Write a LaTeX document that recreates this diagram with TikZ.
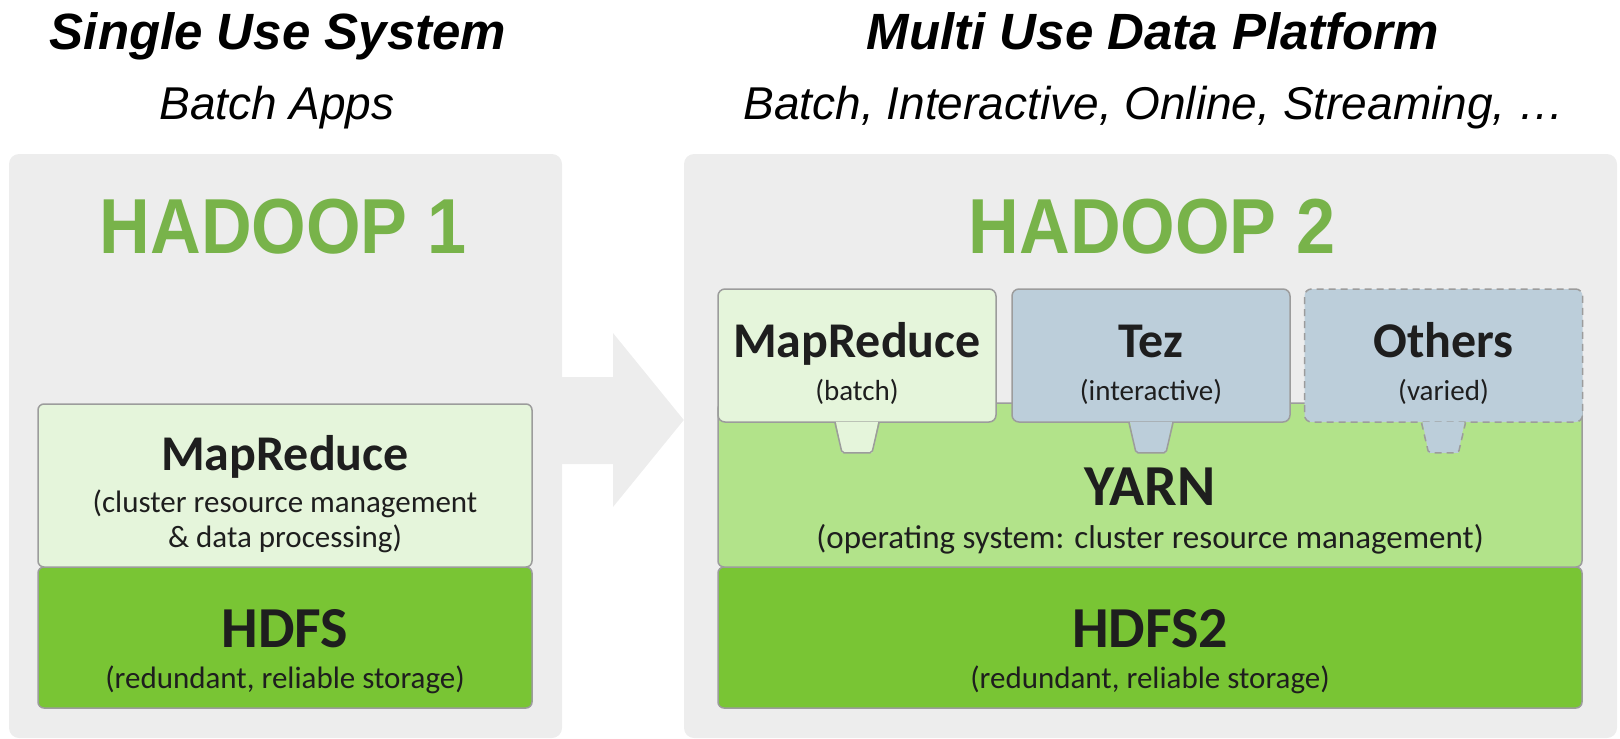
\documentclass[tikz,border=0pt]{standalone}
\usepackage{fontspec}
\setmainfont{Carlito}
\newfontfamily\headfont{Liberation Sans}
\newfontfamily\hadoopfont[FakeStretch=0.9]{Liberation Sans}
\usetikzlibrary{positioning}
\usetikzlibrary{calc}

\definecolor{panelgray}{HTML}{EDEDED}
\definecolor{hadoopgreen}{HTML}{78B34A}
\definecolor{palegreen}{HTML}{E5F5DB}
\definecolor{hdfsgreen}{HTML}{79C534}
\definecolor{yarngreen}{HTML}{B2E38A}
\definecolor{tezblue}{HTML}{BCCEDA}
\definecolor{edgegray}{HTML}{9C9C9C}
\definecolor{inkblack}{HTML}{1E1E1E}

\tikzstyle{panel} = [rectangle, rounded corners=10pt, fill=panelgray, inner sep=0pt]
\tikzstyle{layerbox} = [rectangle, rounded corners=6pt, draw=edgegray, line width=1.5pt, inner sep=0pt, minimum width=494pt]
\tikzstyle{enginebox} = [layerbox, rounded corners=7pt, minimum width=278pt, minimum height=133pt]
\tikzstyle{tabedge} = [draw=edgegray, line width=1.5pt, rounded corners=2pt]
\tikzstyle{looseedge} = [dash pattern=on 7pt off 5pt]
\tikzstyle{heading} = [anchor=base, inner sep=0pt, font=\headfont\bfseries\itshape\fontsize{51}{53}\selectfont]
\tikzstyle{subheading} = [anchor=base, inner sep=0pt, font=\headfont\itshape\fontsize{46}{48}\selectfont]
\tikzstyle{hadooptitle} = [anchor=base, inner sep=0pt, text=hadoopgreen, font=\hadoopfont\bfseries\fontsize{78}{80}\selectfont]
\tikzstyle{boxname} = [anchor=base, inner sep=0pt, text=inkblack, font=\bfseries\fontsize{50}{52}\selectfont]
\tikzstyle{bigboxname} = [boxname, font=\bfseries\fontsize{58}{60}\selectfont]
\tikzstyle{boxnote} = [anchor=base, inner sep=0pt, text=inkblack, font=\fontsize{31}{33}\selectfont]
\tikzstyle{smallnote} = [boxnote, font=\fontsize{29}{31}\selectfont]

\begin{document}
\begin{tikzpicture}[x=1pt, y=-1pt]

    \useasboundingbox (0,0) rectangle (1620,739);

    % panels and the arrow between them
    \node (panel1) [panel, minimum width=553pt, minimum height=584pt] at (285.5,446) {};
    \node (panel2) [panel, minimum width=933pt, minimum height=584pt] at (1150.5,446) {};
    \fill[panelgray] ($(panel1.east |- 0,377)+(-4,0)$) -- (613,377) -- (613,333) -- (panel2.west |- 0,420) -- (613,507) -- (613,464) -- ($(panel1.east |- 0,464)+(-4,0)$) -- cycle;

    \node (title1) [heading] at (278,49) {Single Use System};
    \node (sub1) [subheading] at (277,119) {Batch Apps};
    \node (title2) [heading] at (1153,49) {Multi Use Data Platform};
    \node (sub2) [subheading] at (1154,119) {Batch, Interactive, Online, Streaming, …};

    \node (hadoop1) [hadooptitle] at (283,253) {HADOOP 1};
    \node (hadoop2) [hadooptitle] at (1152,253) {HADOOP 2};

    % hadoop 1 stack
    \node (hdfs1) [layerbox, fill=hdfsgreen, minimum height=141pt] at (285,637.5) {};
    \node (mr1) [layerbox, fill=palegreen, minimum height=163pt] at (285,485.5) {};

    \node (mr1name) [boxname] at (285,470) {MapReduce};
    \node (mr1note) [boxnote] at (285,512) {(cluster resource management};
    \node (mr1note2) [boxnote] at (285,547) {\& data processing)};
    \node (hdfs1name) [bigboxname] at (285,647) {HDFS};
    \node (hdfs1note) [boxnote] at (285,688) {(redundant, reliable storage)};

    % hadoop 2 stack
    \node (hdfs2) [layerbox, fill=hdfsgreen, minimum width=864pt, minimum height=141pt] at (1150,637.5) {};
    \node (yarn) [layerbox, fill=yarngreen, minimum width=864pt, minimum height=164pt] at (1150,485) {};

    \node (mr2) [enginebox, fill=palegreen] at (857,355.5) {};
    \node (tez) [enginebox, fill=tezblue] at (1151,355.5) {};
    \node (others) [enginebox, fill=tezblue, looseedge] at (1443.5,355.5) {};

    % tabs hanging into yarn
    \fill[palegreen] ([xshift=-21pt,yshift=1pt]mr2.south) -- ([xshift=-15pt,yshift=-30pt]mr2.south) -- ([xshift=15pt,yshift=-30pt]mr2.south) -- ([xshift=21pt,yshift=1pt]mr2.south) -- cycle;
    \draw[tabedge] ([xshift=-22pt]mr2.south) -- ([xshift=-15pt,yshift=-30pt]mr2.south) -- ([xshift=15pt,yshift=-30pt]mr2.south) -- ([xshift=22pt]mr2.south);
    \fill[tezblue] ([xshift=-21pt,yshift=1pt]tez.south) -- ([xshift=-15pt,yshift=-30pt]tez.south) -- ([xshift=15pt,yshift=-30pt]tez.south) -- ([xshift=21pt,yshift=1pt]tez.south) -- cycle;
    \draw[tabedge] ([xshift=-22pt]tez.south) -- ([xshift=-15pt,yshift=-30pt]tez.south) -- ([xshift=15pt,yshift=-30pt]tez.south) -- ([xshift=22pt]tez.south);
    \fill[tezblue] ([xshift=-21pt,yshift=1pt]others.south) -- ([xshift=-15pt,yshift=-30pt]others.south) -- ([xshift=15pt,yshift=-30pt]others.south) -- ([xshift=21pt,yshift=1pt]others.south) -- cycle;
    \draw[tabedge, looseedge] ([xshift=-22pt]others.south) -- ([xshift=-15pt,yshift=-30pt]others.south) -- ([xshift=15pt,yshift=-30pt]others.south) -- ([xshift=22pt]others.south);

    \node (mr2name) [boxname] at (857,357) {MapReduce};
    \node (mr2note) [smallnote] at (857,400) {(batch)};
    \node (tezname) [boxname] at (1151,357) {Tez};
    \node (teznote) [smallnote] at (1151,400) {(interactive)};
    \node (othersname) [boxname] at (1443.5,357) {Others};
    \node (othersnote) [smallnote] at (1443.5,400) {(varied)};

    \node (yarnname) [bigboxname] at (1150,505) {YARN};
    \node (yarnnote) [boxnote, font=\fontsize{33}{35}\selectfont] at (1150,548) {(operating system: cluster resource management)};
    \node (hdfs2name) [bigboxname] at (1150,647) {HDFS2};
    \node (hdfs2note) [boxnote] at (1150,688) {(redundant, reliable storage)};

\end{tikzpicture}
\end{document}
